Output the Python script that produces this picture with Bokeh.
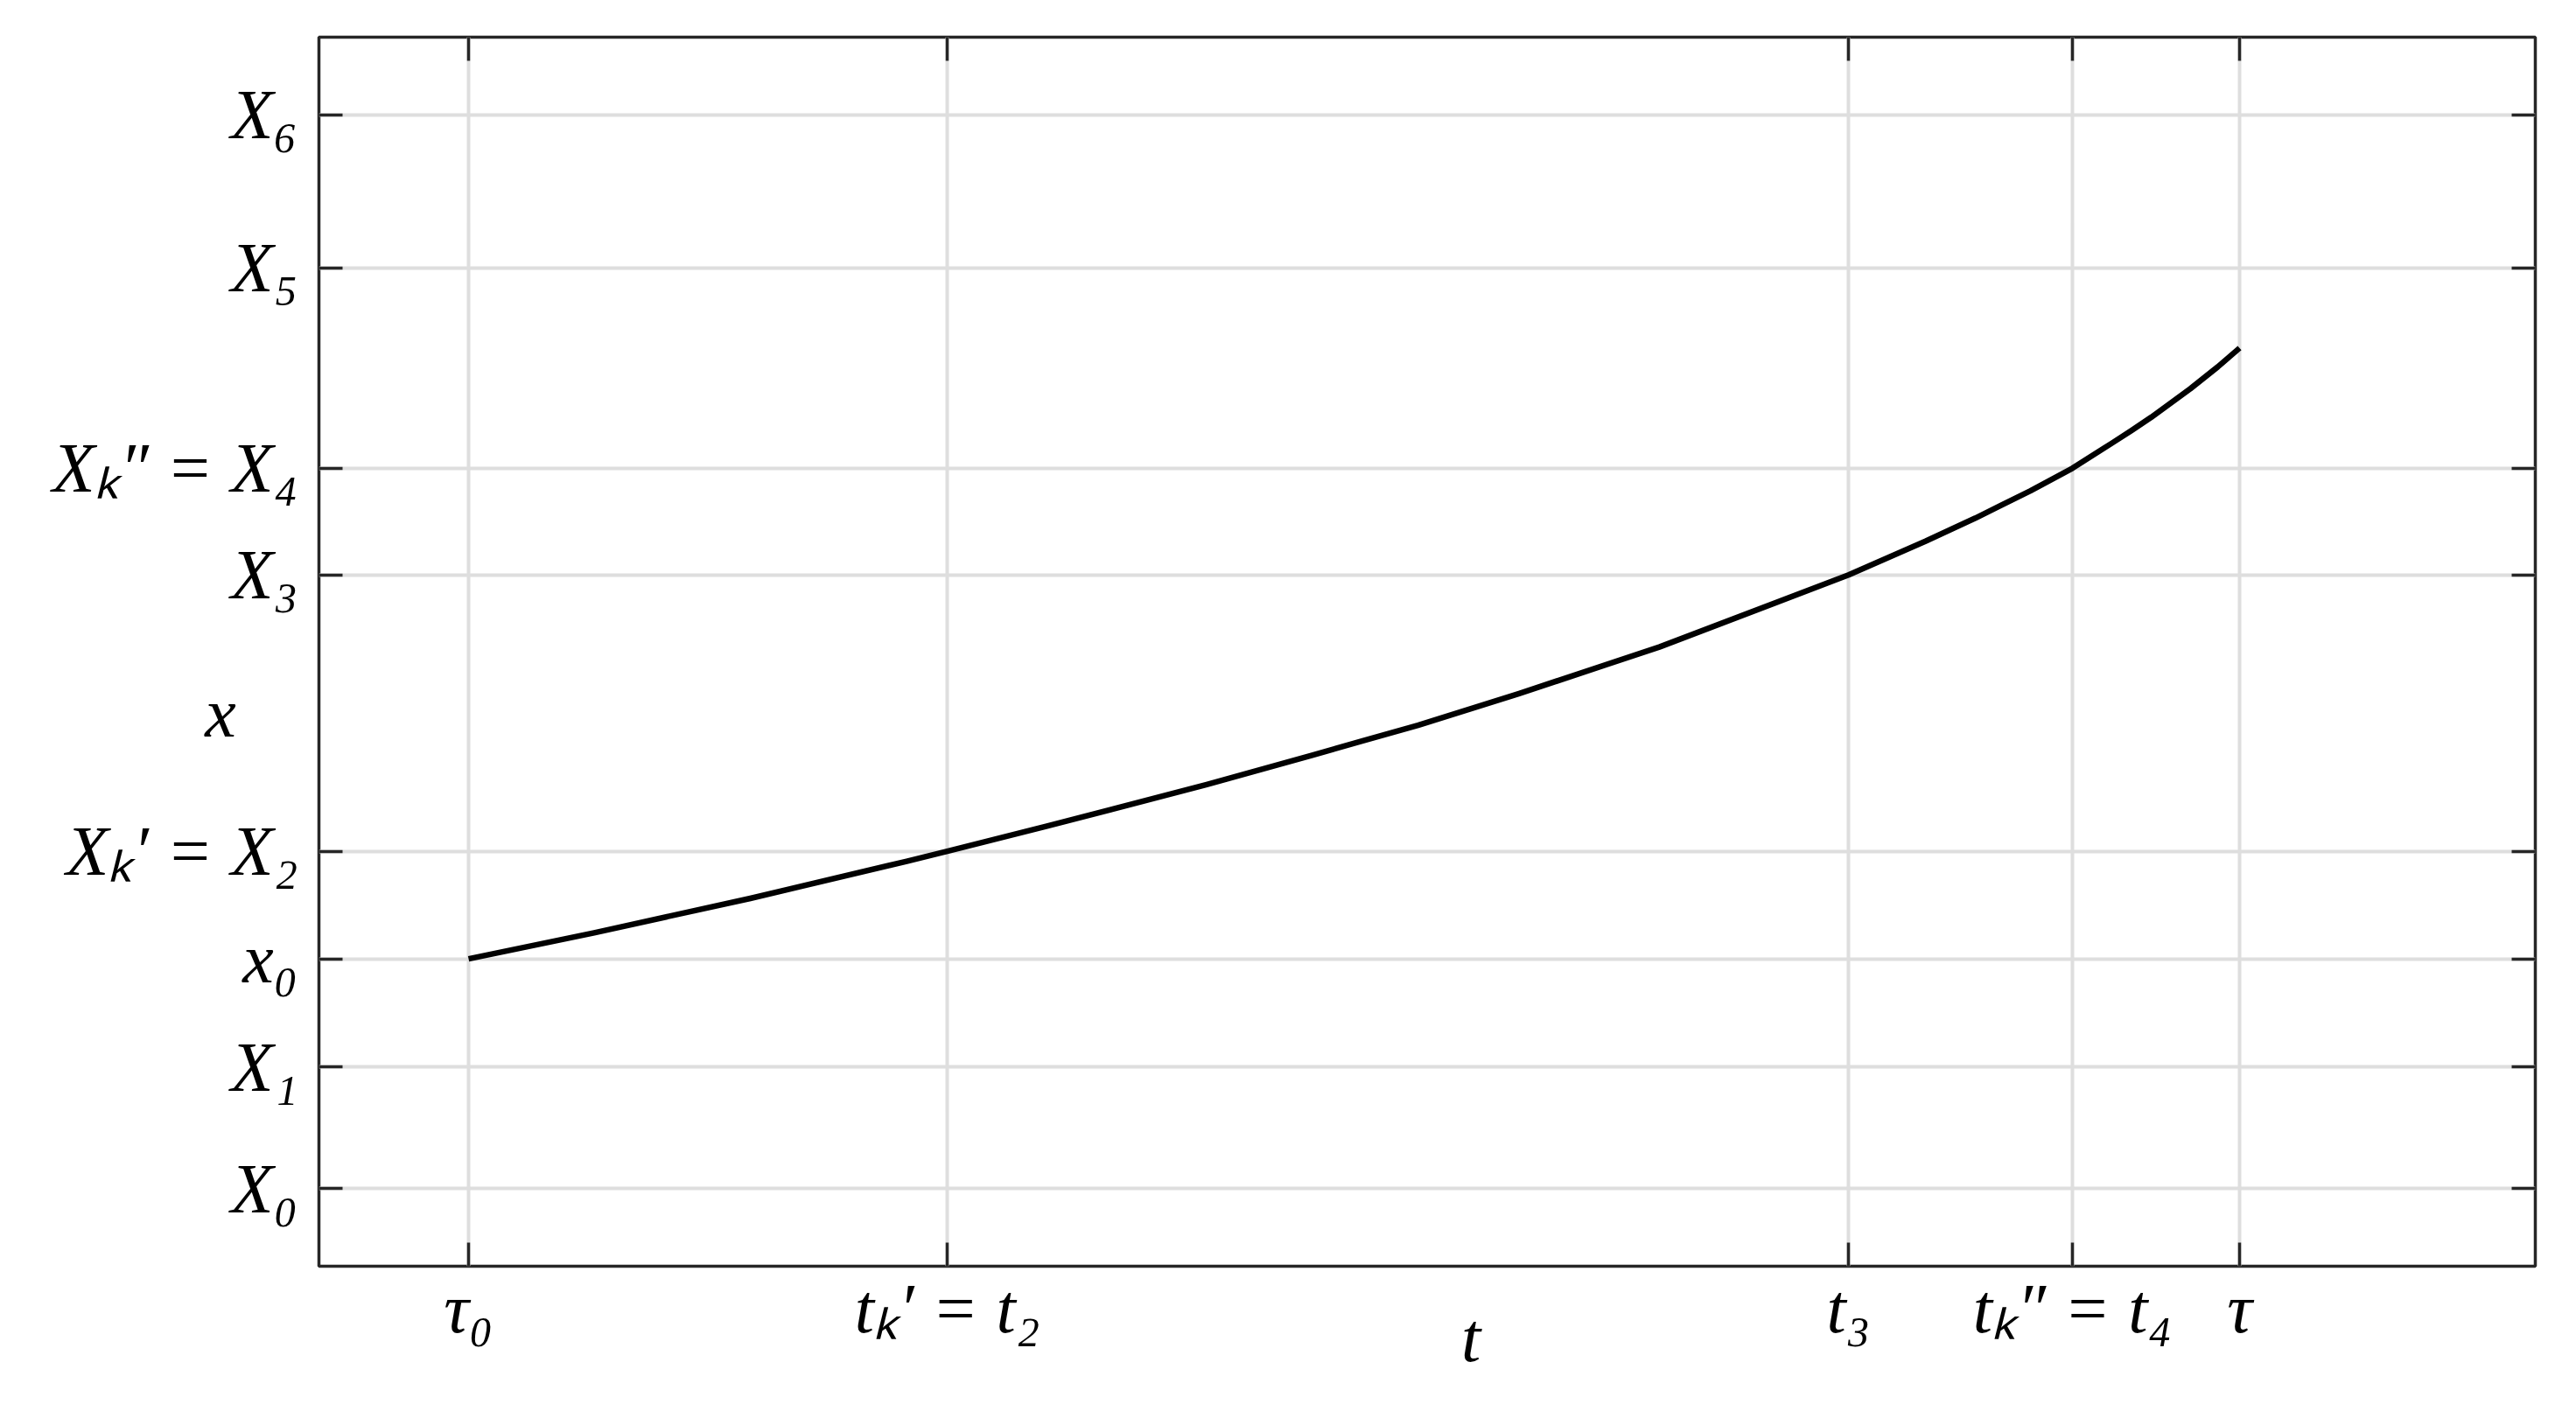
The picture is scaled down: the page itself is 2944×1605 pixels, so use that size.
from bokeh.plotting import figure
from bokeh.models import Range1d, FixedTicker, LinearAxis
from bokeh.embed import file_html
from bokeh.resources import INLINE

# ---- data ----
t_ticks = [0.0, 0.2703, 0.7792, 0.9056, 1.0]
t_labels = ["τ₀", "tₖ′ = t₂", "t₃", "tₖ″ = t₄", "τ"]

x_ticks = [0.0, 0.1136, 0.2142, 0.3143, 0.5717, 0.6710, 0.8575, 1.0]
x_labels = ["X₀", "X₁", "x₀", "Xₖ′ = X₂", "X₃", "Xₖ″ = X₄", "X₅", "X₆"]

curve_t = [0.0, 0.0709, 0.1591, 0.2474, 0.2703, 0.3266, 0.4168, 0.4768, 0.5049,
           0.5361, 0.5932, 0.6724, 0.7792, 0.8226, 0.8508, 0.8819, 0.9056, 0.9281,
           0.9391, 0.9501, 0.9722, 0.9877, 1.0]
curve_x = [0.2142, 0.2384, 0.2705, 0.3050, 0.3143, 0.3377, 0.3765, 0.4039, 0.4172,
           0.4316, 0.4612, 0.5046, 0.5717, 0.6030, 0.6246, 0.6500, 0.6710, 0.6946,
           0.7063, 0.7185, 0.7451, 0.7655, 0.7830]

t_range = (-0.0845, 1.167)
x_range = (-0.0721, 1.0725)

FONT = "Liberation Serif"
FS = "80px"
AX = "#262626"

p = figure(width=2928, height=1589, output_backend="svg", toolbar_location=None,
           x_range=Range1d(*t_range), y_range=Range1d(*x_range),
           min_border_left=364, min_border_right=31, min_border_top=42, min_border_bottom=142,
           background_fill_color="white", border_fill_color="white")

p.outline_line_color = AX
p.outline_line_width = 3.5

def style_axis(ax, ticks, labels=None):
    ax.ticker = FixedTicker(ticks=ticks)
    ax.axis_line_color = None
    ax.major_tick_in = 27
    ax.major_tick_out = 0
    ax.major_tick_line_color = AX
    ax.major_tick_line_width = 3.5
    ax.minor_tick_line_color = None
    if labels is not None:
        ax.major_label_overrides = {v: s for v, s in zip(ticks, labels)}
        ax.major_label_text_font = FONT
        ax.major_label_text_font_style = "italic"
        ax.major_label_text_font_size = FS
        ax.major_label_text_color = "black"
        ax.axis_label_text_font = FONT
        ax.axis_label_text_font_style = "italic"
        ax.axis_label_text_font_size = FS
        ax.axis_label_text_color = "black"
    else:
        ax.major_label_overrides = {v: "" for v in ticks}
        ax.major_label_text_color = None
        ax.major_label_standoff = 0

style_axis(p.xaxis[0], t_ticks, t_labels)
style_axis(p.yaxis[0], x_ticks, x_labels)
p.xaxis[0].major_label_standoff = 4
p.yaxis[0].major_label_standoff = 24

# axis titles
p.xaxis[0].axis_label = "\u2003\u00a0t"
p.xaxis[0].axis_label_standoff = -58
p.yaxis[0].axis_label = "\nx"
p.yaxis[0].axis_label_orientation = "horizontal"
p.yaxis[0].axis_label_text_line_height = 1.6
p.yaxis[0].axis_label_standoff = -213

top = LinearAxis()
style_axis(top, t_ticks)
p.add_layout(top, "above")
right = LinearAxis()
style_axis(right, x_ticks)
p.add_layout(right, "right")

for g in (p.xgrid[0], p.ygrid[0]):
    g.grid_line_color = "#dedede"
    g.grid_line_width = 4
p.xgrid[0].ticker = FixedTicker(ticks=t_ticks)
p.ygrid[0].ticker = FixedTicker(ticks=x_ticks)

p.line(curve_t, curve_x, line_color="black", line_width=6.5, line_join="round")

open("out.html", "w").write(file_html(p, INLINE))
